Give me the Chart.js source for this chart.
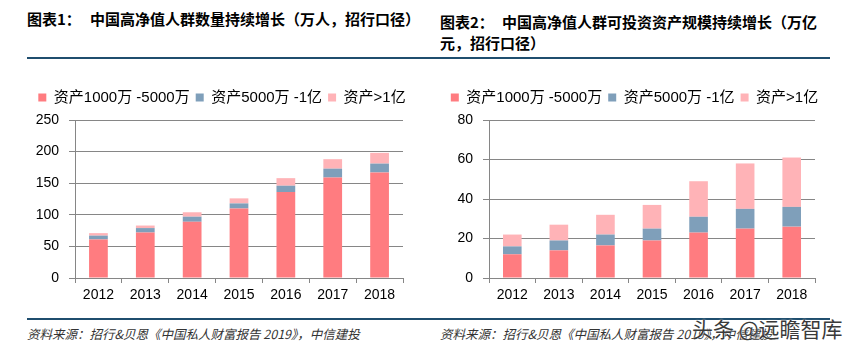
<!DOCTYPE html>
<html><head><meta charset="utf-8">
<script src="https://cdn.jsdelivr.net/npm/chart.js@4.4.0/dist/chart.umd.min.js"></script>
<style>
body{margin:0;width:859px;height:351px;background:#fff;position:relative;overflow:hidden;font-family:'Noto Sans CJK SC',sans-serif;}
.t{position:absolute;font-weight:bold;font-size:15px;color:#000;white-space:nowrap;line-height:21px;}
.rule{position:absolute;height:2px;background:#1f4e6e;}
.src{position:absolute;font-size:12.5px;color:#333;font-style:italic;white-space:nowrap;line-height:16px;}
.wm{position:absolute;font-size:21px;color:#3a3a3a;white-space:nowrap;line-height:26px;text-shadow:0 0 2px #fff;}
canvas{position:absolute;}
</style>
</head><body>
<div class="t" style="left:27px;top:8px;">图表1：</div>
<div class="t" style="left:90px;top:8px;">中国高净值人群数量持续增长（万人，招行口径）</div>
<div class="t" style="left:440px;top:11px;">图表2：</div>
<div class="t" style="left:502px;top:11px;">中国高净值人群可投资资产规模持续增长（万亿</div>
<div class="t" style="left:440px;top:32px;">元，招行口径）</div>
<div class="rule" style="left:27px;top:57px;width:403px;"></div>
<div class="rule" style="left:430px;top:57px;width:400px;"></div>
<canvas id="c1" width="430" height="250" style="left:0;top:60px;"></canvas>
<canvas id="c2" width="429" height="250" style="left:430px;top:60px;"></canvas>
<div class="rule" style="left:27px;top:318px;width:803px;height:2px;"></div>
<div class="src" style="left:27px;top:326px;">资料来源：招行&amp;贝恩《中国私人财富报告 2019》，中信建投</div>
<div class="src" style="left:440px;top:326px;">资料来源：招行&amp;贝恩《中国私人财富报告 2019》，中信建投</div>
<div class="wm" style="left:692px;top:315px;">头条 @远瞻智库</div>
<script>
const years = ['2012','2013','2014','2015','2016','2017','2018'];
const seriesNames = ['资产1000万 -5000万','资产5000万 -1亿','资产>1亿'];
// Chart 1: number of HNWIs (万人)
const people1000to5000 = [61, 72, 89, 110, 136, 159, 167];
const people5000to1yi = [6, 7, 8, 8, 10, 14, 14];
const peopleOver1yi = [4, 4, 7, 8, 12, 15, 17];
const peopleTicks = [0, 50, 100, 150, 200, 250];
// Chart 2: investable assets (万亿元)
const assets1000to5000 = [12, 14, 16.5, 19, 23, 25, 26];
const assets5000to1yi = [4, 5, 5.5, 6, 8, 10, 10];
const assetsOver1yi = [6, 8, 10, 12, 18, 23, 25];
const assetsTicks = [0, 20, 40, 60, 80];

const colors = ['#FF7C80', '#7F9FBA', '#FFB3B7'];
const FONT = "'Liberation Sans', 'Noto Sans CJK SC', sans-serif";
const GRID = '#868686';

function legendHeightPlugin(h){
  return {id:'legendHeight', beforeInit(chart){
    const fit = chart.legend.fit;
    chart.legend.fit = function(){ fit.call(this); this.height = h; };
  }};
}

function makeChart(id, series, ticks, padL, padR, yW, y2W){
  const ctx = document.getElementById(id);
  return new Chart(ctx, {
    type:'bar',
    data:{labels:years, datasets: series.map((d,i)=>({
      label:seriesNames[i], data:d, backgroundColor:colors[i], borderWidth:0,
      barPercentage:0.4, categoryPercentage:1.0, yAxisID:'y'
    }))},
    options:{
      responsive:false, animation:false, devicePixelRatio:1,
      layout:{padding:{left:padL, right:padR, top:24, bottom:0}},
      plugins:{
        legend:{position:'top', align:'center',
          labels:{boxWidth:8, boxHeight:8, padding:6, color:'#000', font:{family:FONT, size:15}}},
        tooltip:{enabled:false}
      },
      scales:{
        x:{stacked:true,
          grid:{display:true, drawOnChartArea:false, drawTicks:true, tickLength:5, offset:true, color:GRID},
          border:{display:true, color:GRID},
          ticks:{padding:4, color:'#000', font:{family:FONT, size:14}},
          afterFit(s){ s.height = 32; }
        },
        y:{stacked:true, min:ticks[0], max:ticks[ticks.length-1],
          afterBuildTicks(s){ s.ticks = ticks.map(v=>({value:v})); },
          grid:{color:GRID, tickLength:6, drawTicks:true},
          border:{display:true, color:GRID},
          ticks:{padding:10, color:'#000', font:{family:FONT, size:14}},
          afterFit(s){ s.width = yW; }
        },
        y2:{position:'right', display:true,
          grid:{display:false, drawTicks:false}, border:{display:false},
          ticks:{display:false},
          afterFit(s){ s.width = y2W; }
        }
      }
    },
    plugins:[legendHeightPlugin(36)]
  });
}

makeChart('c1', [people1000to5000, people5000to1yi, peopleOver1yi], peopleTicks, 14, 0, 61, 27);
makeChart('c2', [assets1000to5000, assets5000to1yi, assetsOver1yi], assetsTicks, 0, 20, 59, 24);
</script>
</body></html>
